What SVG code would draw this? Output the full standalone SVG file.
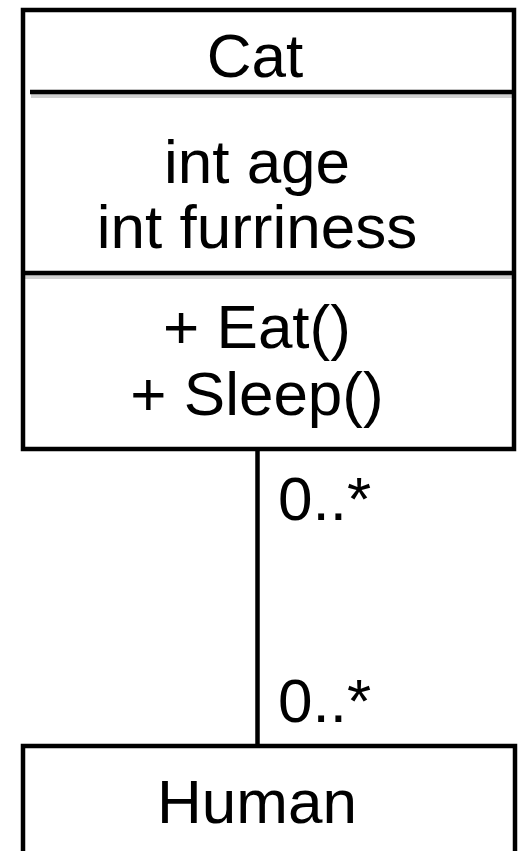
<svg xmlns="http://www.w3.org/2000/svg" width="521" height="851" viewBox="0 0 521 851">
<defs>
<style>
.box{fill:#fff;stroke:#000;stroke-width:4.5}
.div{stroke:#000;stroke-width:4.5}
.sh{stroke:#000;stroke-opacity:0.18;stroke-width:4}
.t{font-family:"Liberation Sans",Arial,sans-serif;font-size:62px;fill:#000}
.c{text-anchor:middle}
.edge{stroke:#000;stroke-width:4.5;fill:none}
</style>
</defs>
<rect width="521" height="851" fill="#fff"/>
<g id="cat">
<rect class="box" x="23" y="10" width="491" height="439"/>
<line class="sh" x1="31" y1="96" x2="512" y2="96"/>
<line class="div" x1="30" y1="92" x2="514" y2="92"/>
<line class="sh" x1="25" y1="277" x2="512" y2="277"/>
<line class="div" x1="23" y1="273" x2="514" y2="273"/>
<text class="t c" x="255" y="77">Cat</text>
<text class="t c" x="257" y="183">int age</text>
<text class="t c" x="257" y="248">int furriness</text>
<text class="t c" x="257" y="348">+ Eat()</text>
<text class="t c" x="257" y="415">+ Sleep()</text>
</g>
<g id="connectors">
<line class="edge" x1="257.5" y1="449" x2="257.5" y2="746"/>
<text class="t" x="278" y="520">0..*</text>
<text class="t" x="278" y="722">0..*</text>
</g>
<g id="human">
<rect class="box" x="23" y="746" width="492" height="130"/>
<text class="t c" x="257" y="823">Human</text>
</g>
</svg>
